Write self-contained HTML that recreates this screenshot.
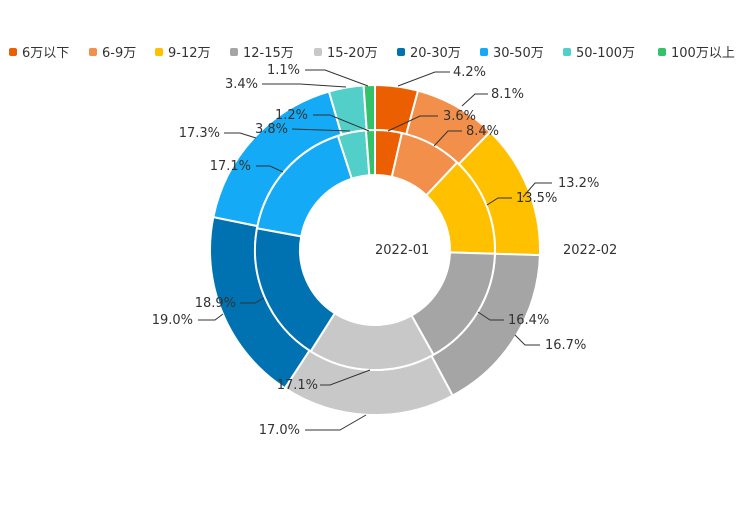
<!DOCTYPE html>
<html><head><meta charset="utf-8"><style>
body{margin:0;background:#fff;}
svg text{font-family:"DejaVu Sans","Noto Sans CJK SC",sans-serif;font-size:13px;fill:#333;}
</style></head><body>
<svg id="s" width="750" height="500" xmlns="http://www.w3.org/2000/svg">
<g id="pies"></g>
<g fill="none" stroke="#333" stroke-width="1">
<polyline points="398,86 435,72 450,72"/>
<polyline points="462,106 475,94 488,94"/>
<polyline points="523,197 535,183 552,183"/>
<polyline points="515,335 525,345 540,345"/>
<polyline points="366,415 340,430 305,430"/>
<polyline points="223,314 215,320 198,320"/>
<polyline points="256,138 240,133 224,133"/>
<polyline points="346,87 300,84 262,84"/>
<polyline points="368,86 325,70 305,70"/>
<polyline points="388,131 420,116 438,116"/>
<polyline points="434,146 448,131 462,131"/>
<polyline points="487,205 498,198 512,198"/>
<polyline points="478,312 490,320 504,320"/>
<polyline points="370,370 330,385 320,385"/>
<polyline points="264,298 255,303 240,303"/>
<polyline points="283,172 270,166 256,166"/>
<polyline points="350,131 292,129"/>
<polyline points="369,131 330,115 313,115"/>
</g>
<g>
<text x="453" y="76">4.2%</text>
<text x="491" y="98">8.1%</text>
<text x="558" y="187">13.2%</text>
<text x="545" y="349">16.7%</text>
<text x="300" y="434" text-anchor="end">17.0%</text>
<text x="193" y="324" text-anchor="end">19.0%</text>
<text x="220" y="137" text-anchor="end">17.3%</text>
<text x="258" y="88" text-anchor="end">3.4%</text>
<text x="300" y="74" text-anchor="end">1.1%</text>
<text x="443" y="120">3.6%</text>
<text x="466" y="135">8.4%</text>
<text x="516" y="202">13.5%</text>
<text x="508" y="324">16.4%</text>
<text x="318" y="389" text-anchor="end">17.1%</text>
<text x="236" y="307" text-anchor="end">18.9%</text>
<text x="251" y="170" text-anchor="end">17.1%</text>
<text x="288" y="133" text-anchor="end">3.8%</text>
<text x="308" y="119" text-anchor="end">1.2%</text>
<text x="375" y="254">2022-01</text>
<text x="563" y="254">2022-02</text>
</g>
<g id="leg"></g>
</svg>
<script>
var C=["#ec5f00","#f28f4a","#ffc000","#a5a5a5","#c8c8c8","#0072b2","#14aaf5","#53cfca","#33c16a"];
var N=["6万以下","6-9万","9-12万","12-15万","15-20万","20-30万","30-50万","50-100万","100万以上"];
var A=[3.6,8.4,13.5,16.4,17.1,18.9,17.1,3.8,1.2],B=[4.2,8.1,13.2,16.7,17.0,19.0,17.3,3.4,1.1];
var cx=375,cy=250,g=document.getElementById("pies"),ns="http://www.w3.org/2000/svg";
function pt(r,a){return [cx+r*Math.sin(a),cy-r*Math.cos(a)];}
function ring(d,r0,r1){var s=0,t=d.reduce((a,b)=>a+b,0);d.forEach(function(v,i){var a0=s/t*2*Math.PI;s+=v;var a1=s/t*2*Math.PI;var l=(a1-a0)>Math.PI?1:0;
var p1=pt(r1,a0),p2=pt(r1,a1),p3=pt(r0,a1),p4=pt(r0,a0);
var p=document.createElementNS(ns,"path");p.setAttribute("d","M"+p1+"A"+r1+","+r1+" 0 "+l+" 1 "+p2+"L"+p3+"A"+r0+","+r0+" 0 "+l+" 0 "+p4+"Z");
p.setAttribute("fill",C[i]);p.setAttribute("stroke","#fff");p.setAttribute("stroke-width","2");g.appendChild(p);});}
ring(B,120,165);ring(A,75,120);
var L=document.getElementById("leg"),xs=[13,93,159,234,318,401,484,567,662];
N.forEach(function(n,i){var r=document.createElementNS(ns,"rect");r.setAttribute("x",xs[i]-4);r.setAttribute("y",48);r.setAttribute("width",8);r.setAttribute("height",8);r.setAttribute("rx",2);r.setAttribute("fill",C[i]);L.appendChild(r);
var t=document.createElementNS(ns,"text");t.setAttribute("x",xs[i]+9);t.setAttribute("y",57);t.textContent=n;L.appendChild(t);});
</script>
</body></html>
